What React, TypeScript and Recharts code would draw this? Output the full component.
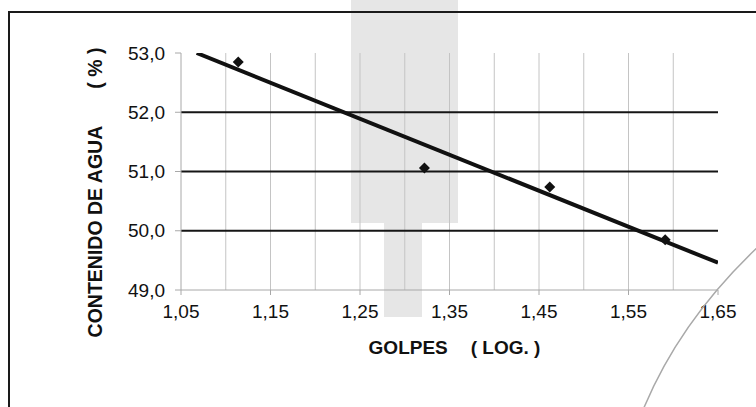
import { ScatterChart, Scatter, XAxis, YAxis, ReferenceLine } from 'recharts';

// log10 of blow counts vs. water content
const golpesLog = [1.114, 1.322, 1.462, 1.591];
const contenidoAgua = [52.85, 51.06, 50.74, 49.85];

// fitted line, read at its two ends
const trendX = [1.0675, 1.65];
const trendY = [53.0, 49.46];

const xTicks = [1.05, 1.15, 1.25, 1.35, 1.45, 1.55, 1.65];
const yTicks = [49, 50, 51, 52, 53];
const xMinorGrid = [1.1, 1.15, 1.2, 1.25, 1.3, 1.35, 1.4, 1.45, 1.5, 1.55, 1.6];
const yMajorGrid = [50, 51, 52];

const points = golpesLog.map((x, i) => ({ x, y: contenidoAgua[i] }));
const trend = trendX.map((x, i) => ({ x, y: trendY[i] }));

const font = '"Liberation Sans", Arial, sans-serif';

const Diamond = (props: any) => {
  const { cx, cy } = props;
  const r = 5.5;
  return (
    <polygon
      points={`${cx},${cy - r} ${cx + r},${cy} ${cx},${cy + r} ${cx - r},${cy}`}
      fill="#111"
    />
  );
};

const YTitle = (props: any) => {
  const { viewBox } = props;
  const x = viewBox.x - 19;
  const y = viewBox.y + viewBox.height / 2 + 21;
  return (
    <text
      x={x}
      y={y}
      transform={`rotate(-90, ${x}, ${y})`}
      textAnchor="middle"
      fontFamily={font}
      fontWeight="bold"
      fontSize={19.5}
      fill="#111"
    >
      <tspan>CONTENIDO DE AGUA</tspan>
      <tspan dx={37}>( % )</tspan>
    </text>
  );
};

const XTitle = (props: any) => {
  const { viewBox } = props;
  const x = viewBox.x + viewBox.width / 2 + 5;
  const y = viewBox.y + 64;
  return (
    <text
      x={x}
      y={y}
      textAnchor="middle"
      fontFamily={font}
      fontWeight="bold"
      fontSize={19}
      fill="#111"
    >
      <tspan>GOLPES</tspan>
      <tspan dx={23}>( LOG. )</tspan>
    </text>
  );
};

const App = () => {
  return (
    <div
      style={{
        position: 'fixed',
        left: 0,
        top: 0,
        width: 756,
        height: 407,
        overflow: 'hidden',
        background: '#fff',
      }}
    >
      {/* scan shading */}
      <div style={{ position: 'absolute', left: 351, top: 0, width: 107, height: 223, background: '#e6e6e6' }} />
      <div style={{ position: 'absolute', left: 384, top: 223, width: 38, height: 94, background: '#e6e6e6' }} />
      {/* frame */}
      <div
        style={{
          position: 'absolute',
          left: 8,
          top: 11,
          width: 800,
          height: 500,
          borderLeft: '2px solid #1a1a1a',
          borderTop: '2px solid #1a1a1a',
        }}
      />
      <div style={{ position: 'absolute', left: 0, top: 0 }}>
        <ScatterChart
          width={756}
          height={407}
          margin={{ top: 53, right: 38, bottom: 77, left: 121 }}
        >
          <XAxis
            type="number"
            dataKey="x"
            domain={[1.05, 1.65]}
            ticks={xTicks}
            tickFormatter={(v: number) => v.toFixed(2).replace('.', ',')}
            height={40}
            axisLine={{ stroke: '#a8a8a8' }}
            tickLine={{ stroke: '#a8a8a8' }}
            tickSize={5}
            tickMargin={10}
            tick={{ fill: '#111', fontSize: 19, fontFamily: font }}
            label={<XTitle />}
            allowDataOverflow
          />
          <YAxis
            type="number"
            dataKey="y"
            domain={[49, 53]}
            ticks={yTicks}
            tickFormatter={(v: number) => v.toFixed(1).replace('.', ',')}
            width={60}
            axisLine={{ stroke: '#a8a8a8' }}
            tickLine={{ stroke: '#a8a8a8' }}
            tickSize={6}
            tickMargin={10}
            tick={{ fill: '#111', fontSize: 19, fontFamily: font }}
            label={<YTitle />}
            allowDataOverflow
          />
          {xMinorGrid.map((v) => (
            <ReferenceLine key={'vx' + v} x={v} stroke="#c4c4c4" strokeWidth={1} />
          ))}
          {yMajorGrid.map((v) => (
            <ReferenceLine key={'hy' + v} y={v} stroke="#151515" strokeWidth={2} />
          ))}
          <Scatter
            data={trend}
            line={{ stroke: '#111', strokeWidth: 4 }}
            shape={() => <g />}
            isAnimationActive={false}
          />
          <Scatter data={points} shape={<Diamond />} isAnimationActive={false} />
        </ScatterChart>
      </div>
      {/* scan edge arc */}
      <svg
        width={756}
        height={407}
        style={{ position: 'absolute', left: 0, top: 0, pointerEvents: 'none' }}
      >
        <path d="M 760 245 Q 680 320 643 410" fill="none" stroke="#a9a9a9" strokeWidth={1.5} />
      </svg>
    </div>
  );
};

export default App;
